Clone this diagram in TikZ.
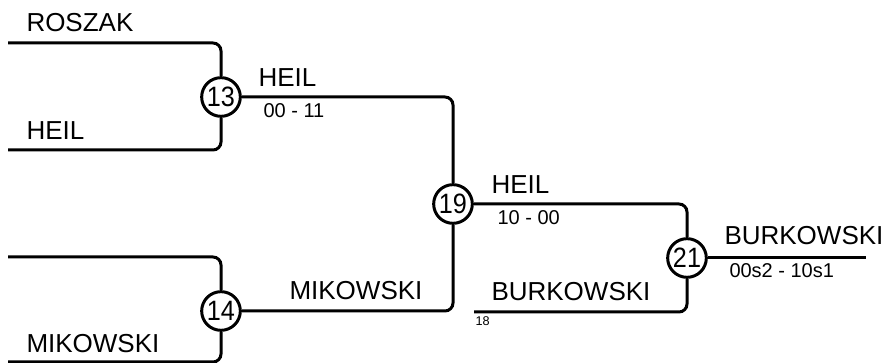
\documentclass[tikz,border=0pt]{standalone}
\usepackage{fontspec}
\setmainfont{Liberation Sans}
\newfontfamily\matchfont[FakeStretch=0.9]{Liberation Sans}
\begin{document}
\begin{tikzpicture}[x=0.75pt,y=-0.75pt,line width=2.25pt,
    match/.style={draw,circle,inner sep=0,minimum size=29pt,font=\matchfont\fontsize{21}{21}\selectfont},
    player/.style={anchor=base west,inner sep=0,font=\fontsize{19.5}{20}\selectfont},
    score/.style={anchor=base west,inner sep=0,font=\fontsize{15}{15}\selectfont},
    seed/.style={anchor=base west,inner sep=0,font=\fontsize{9.5}{10}\selectfont},
    wire/.style={rounded corners=6pt}]
    \useasboundingbox (0,0) rectangle (886,363);
    % matches
    \node[match](m13)at(221,97){13};
    \node[match](m14)at(221,311){14};
    \node[match](m19)at(453,204){19};
    \node[match](m21)at(687,258){21};
    % free ends
    \coordinate(a1)at(8,43);
    \coordinate(a2)at(8,150);
    \coordinate(b1)at(8,257);
    \coordinate(b2)at(8,362);
    \coordinate(c2)at(474,312);
    \coordinate(w)at(866,258);
    \draw[wire](a1)-|(m13);
    \draw[wire](a2)-|(m13);
    \draw[wire](b1)-|(m14);
    \draw[wire](b2)-|(m14);
    \draw[wire](m13)-|(m19);
    \draw[wire](m14)-|(m19);
    \draw[wire](m19)-|(m21);
    \draw[wire](c2)-|(m21);
    \draw(m21)--(w);
    % names and scores
    \node[player](p1)at(25,32){ROSZAK};
    \node[player](p2)at(25,140){HEIL};
    \node[player](p3)at(25,353){MIKOWSKI};
    \node[player](p4)at(257,87){HEIL};
    \node[score](s13)at(262,118){00 - 11};
    \node[player](p5)at(288,300){MIKOWSKI};
    \node[player](p6)at(490,194){HEIL};
    \node[score](s19)at(496,225){10 - 00};
    \node[player](p7)at(490,301){BURKOWSKI};
    \node[seed](s18)at(474,326){18};
    \node[player](p8)at(723,245){BURKOWSKI};
    \node[score](s21)at(728,278){00s2 - 10s1};
\end{tikzpicture}
\end{document}
